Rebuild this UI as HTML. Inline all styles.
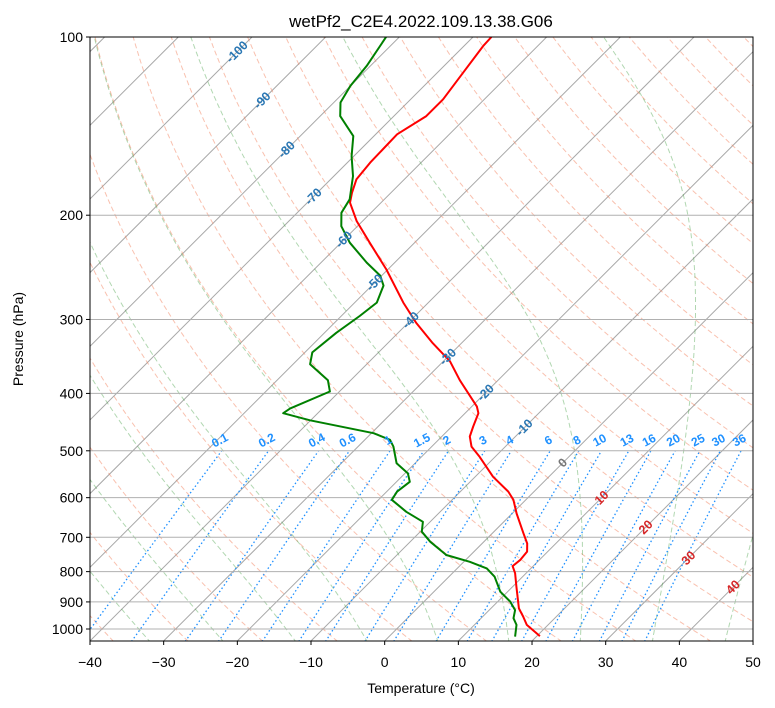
<!DOCTYPE html>
<html><head><meta charset="utf-8"><style>
body{margin:0;background:#fff;}
svg{display:block;font-family:"Liberation Sans","DejaVu Sans",sans-serif;}
</style></head><body>
<svg id="c" width="775" height="708" xmlns="http://www.w3.org/2000/svg">
<defs><clipPath id="clip"><rect x="90" y="37" width="663" height="604"/></clipPath></defs>
<text x="421" y="27" text-anchor="middle" font-size="17">wetPf2_C2E4.2022.109.13.38.G06</text>
<g id="plot" clip-path="url(#clip)"></g>
<g id="labels"></g>
<rect x="90" y="37" width="663" height="604" fill="none" stroke="#000" stroke-width="1"/>
<g id="axes"></g>
<text x="421" y="693" text-anchor="middle" font-size="14">Temperature (°C)</text>
<text transform="translate(23,339) rotate(-90)" text-anchor="middle" font-size="14">Pressure (hPa)</text>
</svg>
<script>
const tempP=[1028,984,953,923,848,805,783,764,740,717,689,638,605,586,553,512,492,473,455,432,421,380,353,329,304,281,247,222.6,204.6,190.5,183.2,174,163,146,136,127.4,114.9,103.6,100];
const tempT=[20.4,17.1,15.5,13.8,10.5,8.5,7.2,7.4,7.2,6.1,4.2,0.6,-1.7,-3.5,-7.6,-12.1,-14.6,-16.2,-17.1,-18.2,-19.3,-25.2,-29.1,-33.9,-38.9,-43.4,-50.2,-56.1,-60.8,-64.2,-65.3,-66.5,-66.9,-67.1,-65.6,-65.6,-66.5,-67.4,-67.5];
const dewP=[1030,984,959,929,899,865,816,790,770,750,712,685,659,634,605,586,564,546,525,492,479,467,444,432,424,397,380,357,341,316,296,281,263,253,240.5,222.6,208.7,198.1,188,171.8,159,147,136,129,121,111.9,100];
const dewT=[17.1,15.7,14.4,13.5,11.7,9.0,6.2,4.0,0.8,-3.3,-7.3,-9.8,-11.0,-14.6,-18.2,-18.6,-18.2,-19.6,-22.5,-25.2,-26.6,-29.7,-40.1,-44.7,-44.4,-41.3,-43.1,-47.7,-49.0,-48.4,-47.5,-47.0,-48.4,-50.2,-53.8,-58.8,-62.2,-64.0,-64.7,-67.4,-70.3,-72.8,-77.3,-79.1,-80,-80.5,-81.8];
const pTicks=[100,200,300,400,500,600,700,800,900,1000];
const tTicks=[-40,-30,-20,-10,0,10,20,30,40,50];
const mixRatios=[0.1,0.2,0.4,0.6,1,1.5,2,3,4,6,8,10,13,16,20,25,30,36];
const isoLabelT=[-100,-90,-80,-70,-60,-50,-40,-30,-20,-10];
const isoLabelP=[106,128,155,186,220,260,301,347,399,457];
const isoLabelT2=[0,10,20,30,40];
const isoLabelP2=[524,600,673,759,850];

const NS='http://www.w3.org/2000/svg';
const X0=90,XS=7.367,YTOP=37,YB=641,DEC=592;
function yOf(p){return YTOP+(Math.log10(p)-2)*DEC;}
function xOf(T,p){return X0+(T+40)*XS+(YB-yOf(p));}
const plot=document.getElementById('plot'),labels=document.getElementById('labels'),axes=document.getElementById('axes');
function mk(tag,attrs,parent){const e=document.createElementNS(NS,tag);for(const k in attrs)e.setAttribute(k,attrs[k]);parent.appendChild(e);return e;}
function pathFrom(pts){return pts.map((q,i)=>(i?'L':'M')+q[0].toFixed(1)+','+q[1].toFixed(1)).join('');}

for(let T=-170;T<=50;T+=10){
  const e=mk('line',{x1:xOf(T,1048),y1:YB,x2:xOf(T,100),y2:YTOP,stroke:'#a8a8a8','stroke-width':1},plot);
  
  
}
const pLev=[];for(let lp=Math.log10(1050);lp>=1.99;lp-=0.01)pLev.push(Math.pow(10,lp));
for(let t0=-100;t0<=200;t0+=10){
  const th=t0+273.15;
  const pts=pLev.map(p=>[xOf(th*Math.pow(p/1000,0.2857)-273.15,p),yOf(p)]);
  const e=mk('path',{d:pathFrom(pts),fill:'none',stroke:'#f4845f','stroke-opacity':0.5,'stroke-width':1,'stroke-dasharray':'5,3'},plot);
  
  
}
function es(T){return 6.112*Math.exp(17.67*T/(T+243.5));}
function dTdp(T,p){const Tk=T+273.15,rs=0.622*es(T)/(p-es(T)),Rd=287.04,Lv=2.501e6,Cp=1005.7;
  return (Rd*Tk+Lv*rs)/(Cp+Lv*Lv*rs*0.622/(Rd*Tk*Tk))/p;}
function moist(t0){
  const up=[],dn=[];let T=t0,p=1000;
  while(p>99){up.push([xOf(T,p),yOf(p)]);const dp=-5;const k1=dTdp(T,p),k2=dTdp(T+k1*dp/2,p+dp/2),k3=dTdp(T+k2*dp/2,p+dp/2),k4=dTdp(T+k3*dp,p+dp);T+=dp*(k1+2*k2+2*k3+k4)/6;p+=dp;if(T<-150)break;}
  T=t0;p=1000;
  while(p<1055){const dp=5;const k1=dTdp(T,p);T+=dp*k1;p+=dp;dn.push([xOf(T,p),yOf(p)]);}
  return dn.reverse().concat(up);
}
for(let t0=-95;t0<=60;t0+=10){
  const e=mk('path',{d:pathFrom(moist(t0)),fill:'none',stroke:'#3c9c3c','stroke-opacity':0.4,'stroke-width':1,'stroke-dasharray':'5,3'},plot);
  
  
}
function tdFor(w,p){const e=w*p/(622+w);const l=Math.log(e/6.112);return 243.5*l/(17.67-l);}
mixRatios.forEach(w=>{
  const pts=[];for(let p=1050;p>=500;p-=10)pts.push([xOf(tdFor(w,p),p),yOf(p)]);
  const e=mk('path',{d:pathFrom(pts),fill:'none',stroke:'#1e90ff','stroke-width':1.3,'stroke-dasharray':'1.5,2.5'},plot);
  
  
  const x=xOf(tdFor(w,500),500),y=yOf(500)-7;
  const t=mk('text',{x:0,y:0,transform:`translate(${x.toFixed(1)},${y.toFixed(1)}) rotate(-28)`,'text-anchor':'middle','font-size':12,'font-weight':'bold',fill:'#1e90ff'},labels);
  t.textContent=String(w);
  
  
});
pTicks.forEach(p=>{
  const y=yOf(p);
  const e=mk('line',{x1:90,y1:y,x2:753,y2:y,stroke:'#b0b0b0','stroke-width':1},plot);
  
  
  const k=mk('line',{x1:86,y1:y,x2:90,y2:y,stroke:'#000'},axes);
  
  
  const t=mk('text',{x:83,y:y+5,'text-anchor':'end','font-size':14},axes);
  t.textContent=String(p);
  
  
});
tTicks.forEach(T=>{
  const x=X0+(T+40)*XS;
  const k=mk('line',{x1:x,y1:641,x2:x,y2:645,stroke:'#000'},axes);
  
  
  const t=mk('text',{x:x,y:667,'text-anchor':'middle','font-size':14},axes);
  t.textContent=(T<0?'\u2212'+(-T):String(T));
  
  
});
function trace(P,T,color,name){
  const pts=P.map((p,i)=>[xOf(T[i],p),yOf(p)]);
  const e=mk('path',{d:pathFrom(pts),fill:'none',stroke:color,'stroke-width':2,'stroke-linejoin':'round'},plot);
  
  
}
trace(tempP,tempT,'#ff0000','temperature-trace');
trace(dewP,dewT,'#008000','dewpoint-trace');
function isoLabel(T,p,color,name){
  const x=xOf(T,p),y=yOf(p);
  const t=mk('text',{x:0,y:0,transform:`translate(${x.toFixed(1)},${y.toFixed(1)}) rotate(-45)`,'text-anchor':'middle','dominant-baseline':'central','font-size':12.5,'font-weight':'bold',fill:color},labels);
  t.textContent=String(T);
  
  
}
isoLabelT.forEach((T,i)=>isoLabel(T,isoLabelP[i],'#2a77b4','isotherm-label'));
isoLabelT2.forEach((T,i)=>isoLabel(T,isoLabelP2[i],T===0?'#777':'#d62728','isotherm-label-warm'));
</script>
</body></html>
